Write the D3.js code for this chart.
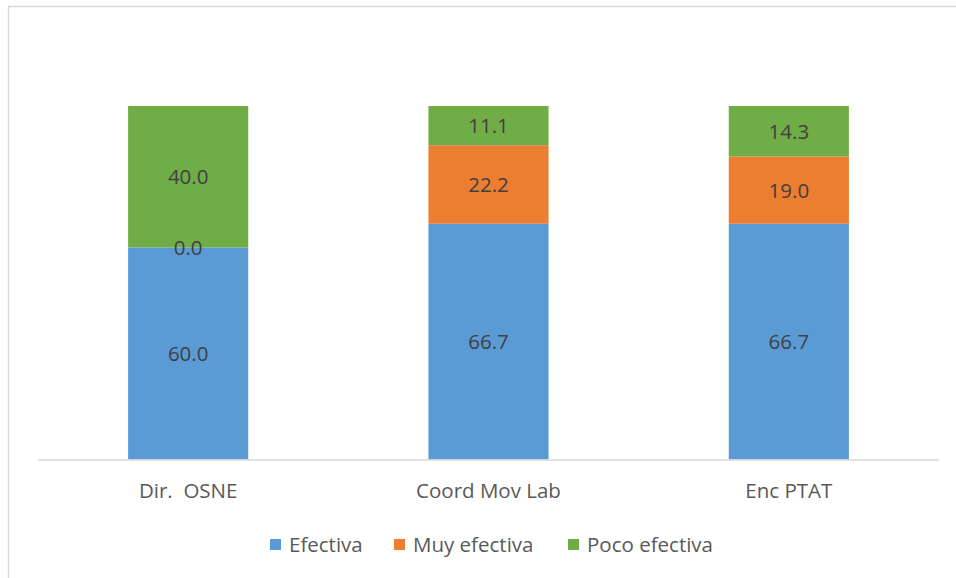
<!DOCTYPE html>
<html>
<head>
<meta charset="utf-8">
<script src="https://cdn.jsdelivr.net/npm/d3@7"></script>
<style>
  html, body { margin: 0; padding: 0; background: #fff; }
  svg { display: block; font-family: "Open Sans", "Noto Sans", sans-serif; }
  svg text { white-space: pre; }
</style>
</head>
<body>
<svg id="chart" width="956" height="578"></svg>
<script>
// Categories and stacked shares (percent)
const categories = ["Dir.  OSNE", "Coord Mov Lab", "Enc PTAT"];
const seriesNames = ["Efectiva", "Muy efectiva", "Poco efectiva"];
const efectiva = [60.0, 66.7, 66.7];
const muyEfectiva = [0.0, 22.2, 19.0];
const pocoEfectiva = [40.0, 11.1, 14.3];
const colors = ["#5B9BD5", "#ED7D31", "#70AD47"];

const rows = categories.map((c, i) => ({
  cat: c,
  "Efectiva": efectiva[i],
  "Muy efectiva": muyEfectiva[i],
  "Poco efectiva": pocoEfectiva[i]
}));

const svg = d3.select("#chart");
const FS = 20.5;

// Chart area frame
svg.append("rect")
  .attr("x", 8.5).attr("y", 6.5)
  .attr("width", 960).attr("height", 590)
  .attr("fill", "#fff")
  .attr("stroke", "#d9d9d9").attr("stroke-width", 1.5);

const plot = { left: 38, right: 939, top: 106, bottom: 459.5 };

const x = d3.scaleBand()
  .domain(categories)
  .range([plot.left, plot.right])
  .paddingInner(0.6).paddingOuter(0.3);

const y = d3.scaleLinear()
  .domain([0, 100])
  .range([plot.bottom, plot.top]);

const color = d3.scaleOrdinal().domain(seriesNames).range(colors);

const stacked = d3.stack().keys(seriesNames)(rows);

const layers = svg.append("g").selectAll("g")
  .data(stacked).join("g")
  .attr("fill", d => color(d.key));

layers.selectAll("rect")
  .data(d => d).join("rect")
  .attr("x", d => x(d.data.cat))
  .attr("y", d => y(d[1]))
  .attr("width", x.bandwidth())
  .attr("height", d => y(d[0]) - y(d[1]));

// Value labels centered in each segment
const labels = svg.append("g");
stacked.forEach(layer => {
  layer.forEach(d => {
    const v = d[1] - d[0];
    labels.append("text")
      .attr("x", x(d.data.cat) + x.bandwidth() / 2)
      .attr("y", (y(d[0]) + y(d[1])) / 2)
      .attr("dy", "0.36em")
      .attr("text-anchor", "middle")
      .attr("font-size", FS)
      .attr("fill", "#404040")
      .text(d3.format(".1f")(v));
  });
});

// Category axis
const xAxis = svg.append("g")
  .attr("transform", `translate(0,${plot.bottom})`)
  .call(d3.axisBottom(x).tickSize(0).tickPadding(24));
xAxis.select(".domain")
  .attr("d", `M${plot.left},0.5H${plot.right}`)
  .attr("stroke", "#d9d9d9").attr("stroke-width", 1.5);
xAxis.selectAll("text")
  .attr("font-size", FS)
  .attr("fill", "#595959")
  .attr("font-family", "\"Open Sans\", sans-serif");

// Legend
const legendItems = [
  { name: seriesNames[0], sx: 270 },
  { name: seriesNames[1], sx: 394 },
  { name: seriesNames[2], sx: 568 }
];
const legend = svg.append("g");
legendItems.forEach(it => {
  legend.append("rect")
    .attr("x", it.sx).attr("y", 539)
    .attr("width", 11).attr("height", 11)
    .attr("fill", color(it.name));
  legend.append("text")
    .attr("x", it.sx + 19).attr("y", 545)
    .attr("dy", "0.36em")
    .attr("font-size", FS)
    .attr("fill", "#595959")
    .text(it.name);
});
</script>
</body>
</html>
